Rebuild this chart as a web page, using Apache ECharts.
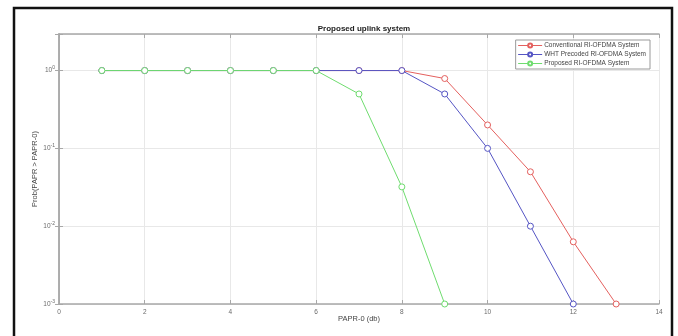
<!DOCTYPE html>
<html>
<head>
<meta charset="utf-8">
<script src="https://cdn.jsdelivr.net/npm/echarts@6/dist/echarts.min.js"></script>
<style>
  html, body { margin: 0; padding: 0; background: #fff; }
  #chart { width: 678px; height: 336px; }
</style>
</head>
<body>
<div id="chart"></div>
<script>
// PAPR-0 (db) values
const paprConv = [1, 2, 3, 4, 5, 6, 7, 8, 9, 10, 11, 12, 13];
const paprWht = [1, 2, 3, 4, 5, 6, 7, 8, 9, 10, 11, 12];
const paprProp = [1, 2, 3, 4, 5, 6, 7, 8, 9];

// CCDF
const probConv = [1, 1, 1, 1, 1, 1, 1, 1, 0.79, 0.2, 0.05, 0.0063, 0.001];
const probWht = [1, 1, 1, 1, 1, 1, 1, 1, 0.5, 0.1, 0.01, 0.001];
const probProp = [1, 1, 1, 1, 1, 1, 0.5, 0.032, 0.001];

const axisGray = '#a8a8a8';
const labelGray = '#6a6a6a';

function pairs(xs, ys) {
  return xs.map((x, i) => [x, ys[i]]);
}

function logLabel(v) {
  const e = Math.log10(v);
  if (Math.abs(e - Math.round(e)) > 1e-6) return '';
  return '{b|10}{e|' + Math.round(e) + '}';
}

function lineSeries(name, xs, ys, color, z) {
  return {
    name: name,
    type: 'line',
    data: pairs(xs, ys),
    symbol: 'circle',
    symbolSize: 6,
    lineStyle: {width: 1, color: color},
    itemStyle: {color: '#fff', borderColor: color, borderWidth: 1},
    z: z
  };
}

const myChart = echarts.init(document.getElementById('chart'), null, {renderer: 'canvas'});

const option = {
  backgroundColor: '#fff',
  animation: false,
  title: {
    text: 'Proposed uplink system',
    left: 359,
    top: 20,
    textAlign: 'center',
    textStyle: {fontFamily: 'Liberation Sans', fontSize: 8, fontWeight: 'bold', color: '#222'}
  },
  graphic: [{
    type: 'rect',
    shape: {x: 14, y: 8, width: 658, height: 340},
    style: {fill: 'none', stroke: '#111', lineWidth: 2.5},
    silent: true
  }],
  legend: {
    orient: 'vertical',
    right: 28,
    top: 40,
    itemWidth: 24,
    itemHeight: 5,
    itemGap: 2,
    padding: [2, 4, 2, 2],
    backgroundColor: '#fff',
    borderColor: '#9a9a9a',
    borderWidth: 1,
    lineStyle: {width: 1},
    textStyle: {fontFamily: 'Liberation Sans', fontSize: 6.5, color: '#444', padding: [0, 0, 0, -3]},
    data: ['Conventional RI-OFDMA System', 'WHT Precoded RI-OFDMA System', 'Proposed RI-OFDMA System']
  },
  grid: {left: 59, right: 19, top: 34, bottom: 32},
  xAxis: [{
    type: 'value',
    min: 0,
    max: 14,
    interval: 2,
    name: 'PAPR-0 (db)',
    nameLocation: 'middle',
    nameGap: 11,
    nameMoveOverlap: false,
    nameTextStyle: {fontFamily: 'Liberation Sans', fontSize: 7.5, color: '#444'},
    axisLine: {show: true, lineStyle: {color: axisGray, width: 1.5}},
    axisTick: {show: true, inside: true, length: 4, lineStyle: {color: axisGray}},
    axisLabel: {fontFamily: 'Liberation Sans', fontSize: 6.5, color: labelGray, margin: 5},
    splitLine: {show: true, lineStyle: {color: '#e8e8e8', width: 1}}
  }, {
    type: 'value',
    position: 'top',
    min: 0,
    max: 14,
    interval: 2,
    axisLine: {show: true, lineStyle: {color: axisGray, width: 1.5}},
    axisTick: {show: true, inside: true, length: 4, lineStyle: {color: axisGray}},
    axisLabel: {show: false},
    splitLine: {show: false}
  }],
  yAxis: [{
    type: 'log',
    logBase: 10,
    min: 0.001,
    max: 2.95,
    name: 'Prob(PAPR > PAPR-0)',
    nameLocation: 'middle',
    nameGap: 20,
    nameMoveOverlap: false,
    nameTextStyle: {fontFamily: 'Liberation Sans', fontSize: 7.5, color: '#444'},
    axisLine: {show: true, lineStyle: {color: axisGray, width: 1.5}},
    axisTick: {show: true, inside: true, length: 4, lineStyle: {color: axisGray}},
    axisLabel: {
      formatter: logLabel,
      margin: 4,
      rich: {
        b: {fontFamily: 'Liberation Sans', fontSize: 6.5, color: labelGray},
        e: {fontFamily: 'Liberation Sans', fontSize: 5, color: labelGray, padding: [0, 0, 5, 0]}
      }
    },
    splitLine: {show: true, lineStyle: {color: '#e8e8e8', width: 1}}
  }, {
    type: 'log',
    logBase: 10,
    position: 'right',
    min: 0.001,
    max: 2.95,
    axisLine: {show: true, lineStyle: {color: axisGray, width: 1.5}},
    axisTick: {show: true, inside: true, length: 4, lineStyle: {color: axisGray}},
    axisLabel: {show: false},
    splitLine: {show: false}
  }],
  series: [
    lineSeries('Conventional RI-OFDMA System', paprConv, probConv, '#e4605e', 2),
    lineSeries('WHT Precoded RI-OFDMA System', paprWht, probWht, '#5555c4', 3),
    lineSeries('Proposed RI-OFDMA System', paprProp, probProp, '#6fdc6f', 4)
  ]
};

myChart.setOption(option);
</script>
</body>
</html>
